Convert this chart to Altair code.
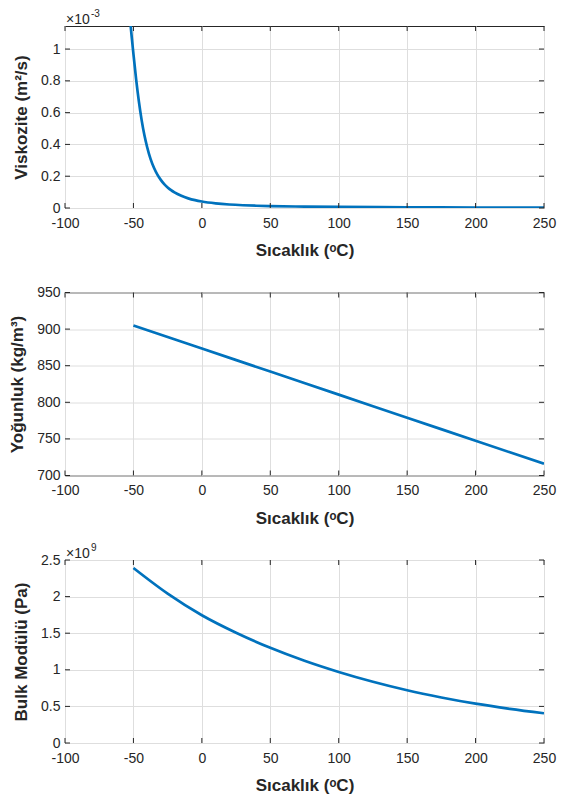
import altair as alt
import pandas as pd

FONT = "Liberation Sans, Arial, Helvetica, sans-serif"
INK = "#262626"
BLUE = "#0072BD"

# ---- data ----
x_ticks = [-100, -50, 0, 50, 100, 150, 200, 250]
x_title = "Sıcaklık (ᵒC)"

# Panel 1: viscosity (x 10^-3 m^2/s)
temp_visc = [-56, -54, -52, -50, -48, -46, -44, -42, -40, -37.5, -35, -32.5, -30, -27.5,
             -25, -22.5, -20, -15, -10, -5, 0, 10, 20, 30, 40, 50, 75, 100, 150, 200, 250]
visc_e3 = [1.61, 1.36, 1.145, 0.97, 0.807, 0.669, 0.553, 0.459, 0.384, 0.309, 0.253, 0.210,
           0.177, 0.150, 0.1295, 0.1123, 0.098, 0.0764, 0.0607, 0.0492, 0.0407, 0.0293,
           0.0221, 0.0174, 0.0142, 0.0120, 0.0087, 0.0066, 0.0042, 0.0030, 0.0022]
visc_ticks = [0, 0.2, 0.4, 0.6, 0.8, 1]
visc_domain = [0, 1.145]
visc_title = "Viskozite (m²/s)"

# Panel 2: density (kg/m^3)
temp_dens = [-50, 0, 50, 100, 150, 200, 250]
dens = [905, 873.5, 842, 810.5, 779, 747.5, 716]
dens_ticks = [700, 750, 800, 850, 900, 950]
dens_domain = [700, 950]
dens_title = "Yoğunluk (kg/m³)"

# Panel 3: bulk modulus (x 10^9 Pa)
temp_bulk = [-50, -25, 0, 25, 50, 75, 100, 125, 150, 175, 200, 225, 250]
bulk_e9 = [2.39, 2.04, 1.745, 1.506, 1.30, 1.123, 0.97, 0.836, 0.72, 0.622, 0.537, 0.467, 0.406]
bulk_ticks = [0, 0.5, 1, 1.5, 2, 2.5]
bulk_domain = [0, 2.5]
bulk_title = "Bulk Modülü (Pa)"

exp_base = ["×10"]
exp_visc = ["-3"]
exp_bulk = ["9"]

W = 479


def panel(temps, vals, ydomain, yticks, ytitle, height, exp_pow=None):
    xscale = alt.Scale(domain=[-100, 250], nice=False, zero=False)
    yscale = alt.Scale(domain=ydomain, nice=False, zero=False)
    xaxis = alt.Axis(values=x_ticks, title=x_title, labelExpr="'' + datum.value",
                     labelPadding=8, titlePadding=12.5, labelFlush=False, labelOverlap=False)
    yaxis = alt.Axis(values=yticks, title=ytitle, labelExpr="'' + datum.value",
                     labelPadding=5, titlePadding=10, labelOverlap=False)
    X = alt.X("t:Q", scale=xscale, axis=xaxis)
    Y = alt.Y("val:Q", scale=yscale, axis=yaxis)
    df = pd.DataFrame({"t": temps, "val": vals})
    line = alt.Chart(df).mark_line(color=BLUE, strokeWidth=2.7, clip=True,
                                   interpolate="monotone").encode(x=X, y=Y)
    xt = pd.DataFrame({"t": x_ticks})
    yt = pd.DataFrame({"val": yticks})
    tb = alt.Chart(xt).mark_rule(color=INK, strokeWidth=1).encode(
        x=X, y=alt.value(height), y2=alt.value(height - 5))
    tt = alt.Chart(xt).mark_rule(color=INK, strokeWidth=1).encode(
        x=X, y=alt.value(0), y2=alt.value(5))
    tl = alt.Chart(yt).mark_rule(color=INK, strokeWidth=1).encode(
        y=Y, x=alt.value(0), x2=alt.value(5))
    tr = alt.Chart(yt).mark_rule(color=INK, strokeWidth=1).encode(
        y=Y, x=alt.value(W), x2=alt.value(W - 5))
    layers = [line, tb, tt, tl, tr]
    if exp_pow is not None:
        b = alt.Chart(pd.DataFrame({"s": exp_base})).mark_text(
            align="left", baseline="alphabetic", fontSize=14, font=FONT, color=INK).encode(
            x=alt.value(1), y=alt.value(-2), text="s:N")
        p = alt.Chart(pd.DataFrame({"s": exp_pow})).mark_text(
            align="left", baseline="alphabetic", fontSize=10, font=FONT, color=INK).encode(
            x=alt.value(26), y=alt.value(-9), text="s:N")
        layers += [b, p]
    return alt.layer(*layers).properties(width=W, height=height)


p1 = panel(temp_visc, visc_e3, visc_domain, visc_ticks, visc_title, 182, exp_visc)
p2 = panel(temp_dens, dens, dens_domain, dens_ticks, dens_title, 183)
p3 = panel(temp_bulk, bulk_e9, bulk_domain, bulk_ticks, bulk_title, 183, exp_bulk)

chart = alt.vconcat(p1, p2, p3, spacing=84.5, bounds="flush").properties(
    padding={"left": 0, "top": 0, "right": 0, "bottom": 0}
).configure_view(
    stroke=INK, strokeWidth=1
).configure_axis(
    labelFont=FONT, labelFontSize=14, labelColor=INK,
    titleFont=FONT, titleFontSize=17, titleFontWeight="bold", titleColor=INK,
    domain=False, ticks=True, tickSize=0,
    grid=True, gridColor="#dedede", gridWidth=1,
)

chart.save("out.html", embed_options={"renderer": "svg", "actions": False})
